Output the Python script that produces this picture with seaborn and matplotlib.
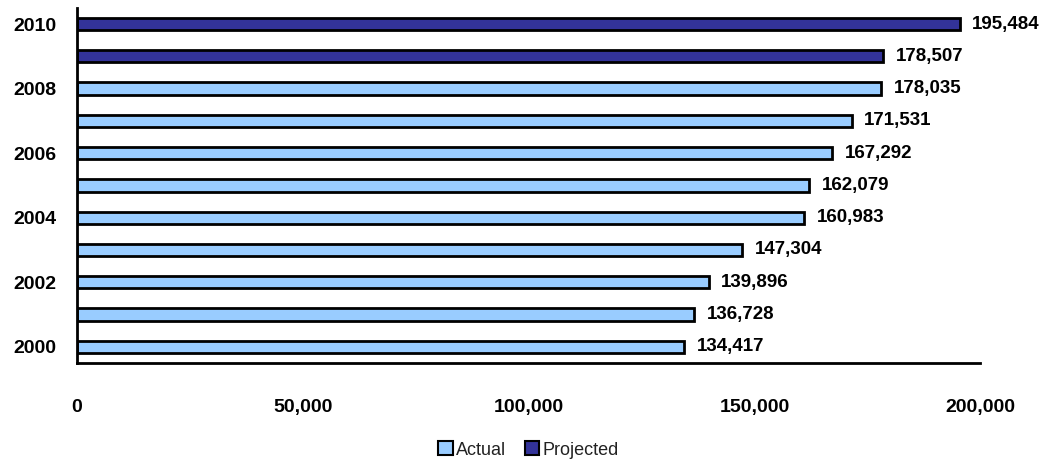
import pandas as pd
import matplotlib.pyplot as plt
import seaborn as sns

sns.set_theme(style="white")
plt.rcParams["font.family"] = ["Liberation Sans", "DejaVu Sans"]
plt.rcParams["text.color"] = "black"
plt.rcParams["xtick.color"] = "black"
plt.rcParams["ytick.color"] = "black"

years = ["2010", "2009", "2008", "2007", "2006", "2005", "2004", "2003", "2002", "2001", "2000"]
values = [195484, 178507, 178035, 171531, 167292, 162079, 160983, 147304, 139896, 136728, 134417]
status = ["Projected", "Projected", "Actual", "Actual", "Actual", "Actual", "Actual", "Actual", "Actual", "Actual", "Actual"]
tick_labels = ["2010", "", "2008", "", "2006", "", "2004", "", "2002", "", "2000"]

df = pd.DataFrame({"Year": years, "Value": values, "Status": status})
palette = {"Actual": "#99CCFF", "Projected": "#333399"}

fig = plt.figure(figsize=(10.54, 4.63), dpi=100)
ax = fig.add_axes([0.073, 0.216, 0.857, 0.767])
sns.barplot(data=df, x="Value", y="Year", hue="Status", hue_order=["Actual", "Projected"],
            order=years, palette=palette, dodge=False, width=0.38,
            edgecolor="black", linewidth=2, saturation=1, ax=ax)

for c in ax.containers:
    ax.bar_label(c, labels=[f"{v:,.0f}" for v in c.datavalues], padding=9,
                 fontsize=13.5, fontweight="bold", color="black")

ax.set_xlim(0, 200000)
ax.set_xticks([0, 50000, 100000, 150000, 200000])
ax.set_xticklabels([f"{t:,}" for t in [0, 50000, 100000, 150000, 200000]], fontsize=14, fontweight="bold")
ax.set_yticks(range(len(years)))
ax.set_yticklabels(tick_labels, fontsize=14, fontweight="bold")
ax.tick_params(axis="x", direction="out", length=6, width=2, color="black", pad=20)
ax.tick_params(axis="y", length=0, pad=15)
ax.set_xlabel("")
ax.set_ylabel("")

for s in ["top", "right"]:
    ax.spines[s].set_visible(False)
for s in ["left", "bottom"]:
    ax.spines[s].set_color("black")
    ax.spines[s].set_linewidth(2)

ax.legend(loc="center", bbox_to_anchor=(0.5, -0.245), ncol=2, frameon=False,
          fontsize=13, handlelength=0.8, handleheight=0.8, handletextpad=0.2,
          columnspacing=1.0, labelcolor="#222222")
for h in ax.get_legend().legend_handles:
    h.set_edgecolor("black")
    h.set_linewidth(1.5)

plt.savefig("out.png", dpi=100)
